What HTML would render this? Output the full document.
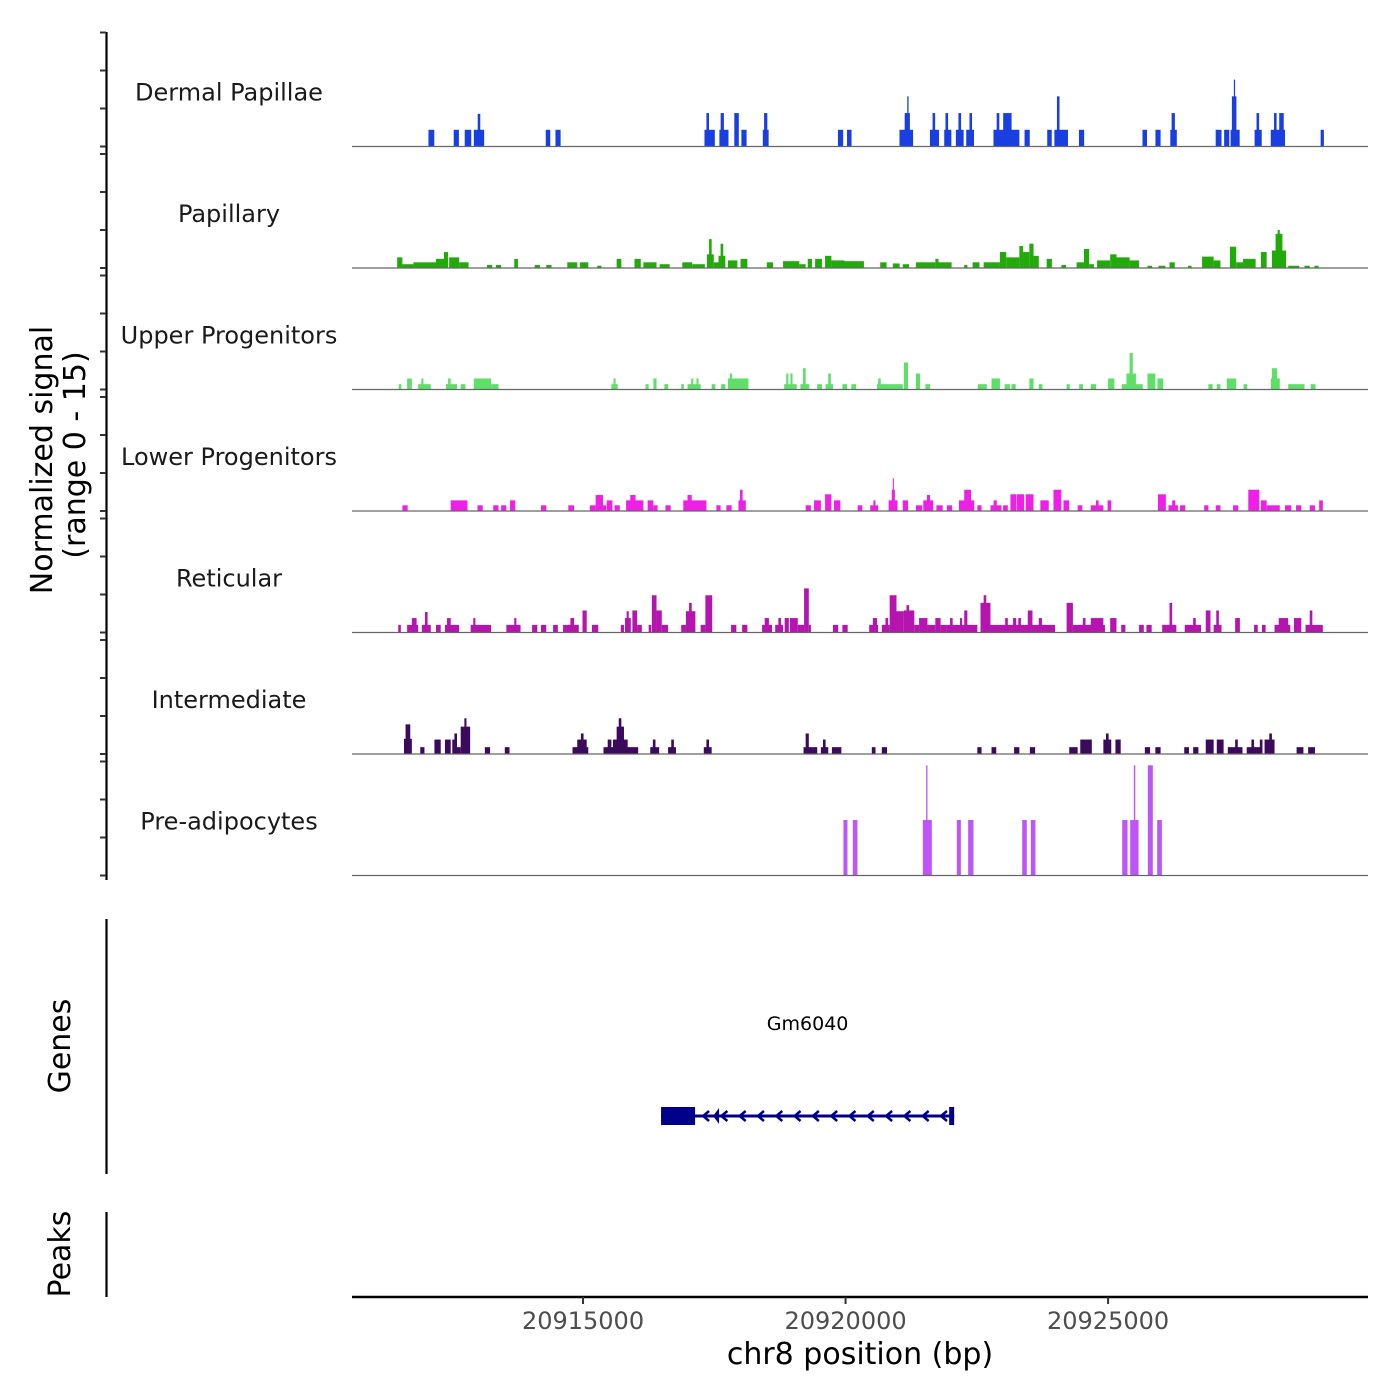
<!DOCTYPE html>
<html><head><meta charset="utf-8"><style>
html,body{margin:0;padding:0;background:#fff;}
svg{display:block;font-family:"DejaVu Sans","Liberation Sans",sans-serif;}
</style></head><body>
<svg id="chart" width="1400" height="1400" viewBox="0 0 1400 1400" xmlns="http://www.w3.org/2000/svg">
<rect x="0" y="0" width="1400" height="1400" fill="#fff"/>
<g id="tracks"></g>
<g id="yaxis"></g>
<text transform="translate(52,460) rotate(-90)" text-anchor="middle" font-size="30" fill="#000">Normalized signal</text>
<text transform="translate(85,455) rotate(-90)" text-anchor="middle" font-size="30" fill="#000">(range 0 - 15)</text>
<line x1="106.5" y1="919" x2="106.5" y2="1174" stroke="#000" stroke-width="2.2"/>
<text transform="translate(70,1046) rotate(-90)" text-anchor="middle" font-size="30" fill="#000">Genes</text>
<line x1="106.5" y1="1212" x2="106.5" y2="1297" stroke="#000" stroke-width="2.2"/>
<text transform="translate(70,1254) rotate(-90)" text-anchor="middle" font-size="30" fill="#000">Peaks</text>
<g id="gene"></g>
<g id="xaxis"></g>
<text x="860" y="1364" text-anchor="middle" font-size="30" fill="#000">chr8 position (bp)</text>
</svg>
<script>
// Genomic region and track names
const regionStart = 20910600;
const regionEnd = 20929950;
const trackNames = ["Dermal Papillae","Papillary","Upper Progenitors","Lower Progenitors","Reticular","Intermediate","Pre-adipocytes"];
const trackColors = ["#1a3fe0","#22aa0a","#5ddf68","#ef20e6","#b514ae","#3b0a5c","#be55f7"];
const xTicks = [20915000, 20920000, 20925000];
const xTickLabels = ["20915000","20920000","20925000"];
const yTickValues = [0, 5, 10, 15];
// Coverage: [start offset (bp from regionStart), end offset, signal]
const dermal = [[1456,1567,2.2],[1937,2036,2.2],[2147,2271,2.2],[2320,2517,2.2],[2394,2443,4.3],[3690,3776,2.2],[3875,3973,2.2],[6713,6910,2.2],[6750,6799,4.4],[6997,7170,2.2],[7021,7083,4.4],[7281,7367,4.4],[7416,7515,2.2],[7824,7935,2.2],[7848,7910,4.4],[9255,9354,2.2],[9428,9514,2.2],[10427,10686,2.2],[10526,10625,4.4],[10575,10600,6.6],[11007,11180,2.2],[11057,11106,4.4],[11279,11415,2.2],[11303,11353,4.4],[11501,11649,2.2],[11550,11600,4.4],[11698,11846,2.2],[11760,11809,4.4],[12217,12710,2.2],[12278,12328,4.4],[12402,12562,4.4],[12809,12908,2.2],[13241,13327,2.2],[13377,13636,2.2],[13426,13475,6.6],[13845,13944,2.2],[15055,15141,2.2],[15302,15400,2.2],[15585,15709,2.2],[15610,15672,4.4],[16449,16560,2.2],[16610,16708,2.2],[16733,16906,2.2],[16758,16844,6.6],[16795,16819,8.8],[17190,17326,2.2],[17227,17276,4.4],[17498,17770,2.2],[17560,17609,4.4],[17659,17745,4.4],[18448,18510,2.2]];
const papillary = [[860,960,1.4],[960,1170,0.5],[1170,1600,0.75],[1600,1790,1.2],[1750,1830,2.1],[1850,2040,1.4],[2040,2220,0.75],[2570,2670,0.4],[2740,2840,0.4],[3090,3160,1.2],[3480,3580,0.4],[3700,3800,0.4],[4100,4290,0.75],[4340,4500,0.75],[4670,4750,0.3],[5040,5130,1.2],[5380,5500,1.2],[5550,5800,0.75],[5860,6050,0.5],[6290,6480,0.75],[6480,6720,0.5],[6760,6890,1.8],[6800,6850,3.8],[6890,6980,0.75],[6980,7110,1.6],[7020,7070,3.2],[7160,7340,1.0],[7400,7530,1.2],[7900,8020,0.75],[8210,8520,0.9],[8520,8640,0.5],[8680,8760,1.2],[8820,8950,1.2],[9010,9130,1.6],[9130,9380,1.0],[9380,9750,0.9],[10060,10180,0.75],[10300,10430,0.6],[10490,10610,0.5],[10740,11110,0.75],[11110,11170,1.2],[11170,11420,0.75],[11660,11720,0.4],[11820,11950,0.75],[12030,12340,0.75],[12340,12460,2.1],[12460,12710,1.4],[12710,12780,2.9],[12780,12900,2.1],[12900,12980,3.2],[12980,13080,1.6],[13230,13330,1.2],[13510,13600,0.4],[13800,13940,0.75],[13940,14040,2.5],[14040,14130,0.5],[14190,14440,1.0],[14440,14560,1.8],[14560,14810,1.4],[14810,14990,1.0],[15150,15240,0.3],[15360,15490,0.3],[15570,15670,0.75],[15920,15990,0.3],[16190,16410,1.5],[16410,16540,1.0],[16720,16840,2.8],[16840,16970,0.75],[16970,17210,1.2],[17310,17420,2.1],[17520,17790,2.3],[17590,17720,4.5],[17630,17670,5.0],[17830,18040,0.3],[18140,18240,0.3],[18330,18410,0.3]];
const upperProg = [[890,940,0.7],[1050,1140,1.45],[1260,1500,0.7],[1320,1360,1.45],[1790,2000,0.7],[1830,1880,1.45],[2070,2160,0.7],[2320,2650,1.45],[2650,2790,0.7],[4940,5060,0.7],[4980,5020,1.45],[5590,5650,0.7],[5740,5800,1.45],[5950,6020,0.7],[6270,6320,0.7],[6390,6640,0.7],[6460,6500,1.45],[6560,6600,1.45],[6850,6920,0.7],[7030,7110,0.7],[7160,7550,1.45],[7200,7240,2.1],[8230,8470,0.7],[8270,8310,2.1],[8350,8390,2.1],[8540,8710,0.7],[8590,8640,2.8],[8860,8950,0.7],[9020,9160,0.7],[9070,9120,2.1],[9340,9430,0.7],[9510,9600,0.7],[10000,10490,0.7],[10020,10070,1.45],[10510,10590,3.55],[10740,10820,2.1],[10920,11010,0.7],[11920,12090,0.7],[12180,12340,1.45],[12430,12530,0.7],[12560,12640,0.7],[12900,12980,1.45],[13080,13150,0.7],[13610,13670,0.7],[13850,13920,0.7],[14070,14170,0.7],[14400,14520,1.45],[14660,15060,0.7],[14750,14930,2.1],[14810,14870,4.8],[15150,15300,2.1],[15340,15450,1.45],[16310,16390,0.7],[16470,16540,0.7],[16660,16840,1.45],[16980,17050,0.7],[17500,17670,1.45],[17520,17620,2.8],[17830,18140,0.7],[18260,18350,0.7]];
const lowerProg = [[960,1060,0.75],[1880,2200,1.4],[2390,2490,0.75],[2690,2790,0.75],[2840,2940,0.75],[3010,3110,1.4],[3600,3700,0.75],[4120,4230,0.75],[4530,4640,0.75],[4640,4780,2.1],[4780,4840,0.75],[4850,4960,1.4],[5000,5100,0.75],[5220,5550,1.4],[5300,5400,2.1],[5630,5740,1.4],[5740,5820,0.75],[5970,6070,0.75],[6310,6750,1.4],[6390,6470,2.1],[6940,7020,0.75],[7130,7230,0.75],[7360,7500,1.4],[7390,7440,2.8],[8640,8740,0.75],[8800,8930,1.4],[9010,9130,2.2],[9180,9300,1.4],[9630,9720,0.75],[9870,10020,0.75],[9930,9970,1.4],[10220,10390,1.4],[10280,10340,2.8],[10300,10320,4.3],[10490,10590,1.4],[10740,10860,0.75],[10880,11070,1.4],[10950,11010,2.1],[11130,11250,0.75],[11330,11430,0.75],[11560,11850,1.4],[11660,11790,2.8],[11910,11990,0.75],[12160,12370,0.75],[12220,12280,1.4],[12400,12490,0.75],[12540,12650,2.2],[12660,12800,2.2],[12830,12980,2.2],[13110,13270,1.4],[13360,13510,2.8],[13550,13660,1.4],[13820,13910,0.75],[14070,14310,0.75],[14170,14220,1.4],[14390,14460,1.4],[15350,15500,2.2],[15550,15730,0.75],[15620,15680,1.4],[15770,15870,0.75],[16230,16310,0.75],[16450,16540,0.75],[16780,16880,0.75],[17070,17280,2.8],[17310,17420,1.4],[17420,17670,0.75],[17770,17890,0.75],[17980,18080,0.75],[18240,18340,0.75],[18420,18490,1.4]];
const reticular = [[880,930,1.0],[1050,1260,1.0],[1140,1230,1.9],[1330,1500,1.0],[1390,1440,2.7],[1600,1690,1.0],[1770,2040,1.0],[1810,1880,1.9],[2260,2650,1.0],[2310,2350,1.9],[2940,3210,1.0],[3090,3130,1.9],[3430,3530,1.0],[3600,3700,1.0],[3830,3920,1.0],[4020,4320,1.0],[4160,4230,1.9],[4390,4470,2.9],[4570,4690,1.0],[5120,5180,1.0],[5200,5310,1.9],[5230,5270,2.8],[5340,5430,2.9],[5430,5520,1.0],[5650,5700,1.0],[5710,5800,4.9],[5800,5900,2.9],[5900,6020,1.0],[6270,6360,1.0],[6360,6540,2.8],[6420,6470,3.9],[6640,6730,1.0],[6730,6860,4.9],[7220,7320,1.0],[7430,7530,1.0],[7810,8000,1.0],[7860,7940,1.9],[8060,8210,1.0],[8120,8170,1.9],[8240,8320,1.9],[8340,8490,1.9],[8490,8610,1.0],[8610,8700,5.8],[8700,8740,1.0],[9160,9260,1.0],[9340,9440,1.0],[9850,10020,1.0],[9920,10000,1.9],[10090,10240,1.0],[10160,10210,1.9],[10240,10370,4.9],[10370,10510,2.8],[10510,10710,2.9],[10560,10610,3.6],[10710,10800,1.0],[10800,10960,1.9],[10960,11110,1.0],[11110,11210,1.9],[11210,11330,1.0],[11330,11910,1.0],[11390,11440,1.9],[11580,11620,1.9],[11660,11720,2.9],[11970,12160,3.9],[12030,12080,4.9],[12160,13390,1.0],[12440,12490,1.9],[12590,12650,1.9],[12690,12740,1.9],[12870,12960,2.9],[13080,13140,1.9],[13610,13730,3.9],[13730,14340,1.0],[13920,13970,1.9],[14070,14310,1.9],[14440,14560,1.9],[14650,14730,1.0],[14990,15080,1.0],[15130,15230,1.0],[15430,15700,1.0],[15570,15620,3.9],[15860,16170,1.0],[16020,16070,1.9],[16260,16350,2.9],[16410,16560,1.0],[16460,16510,2.9],[16820,16910,1.9],[17180,17250,1.0],[17330,17400,1.0],[17570,17870,1.0],[17650,17830,1.9],[17940,18080,1.9],[18160,18490,1.0],[18240,18290,2.9]];
const intermediate = [[990,1140,2.0],[1020,1110,3.9],[1300,1380,0.9],[1570,1690,1.9],[1770,1880,1.9],[1910,2000,1.9],[1950,2000,2.7],[2000,2070,0.9],[2070,2250,3.6],[2140,2180,4.7],[2530,2630,0.9],[2910,3000,0.9],[4200,4500,0.9],[4290,4470,1.9],[4360,4410,2.7],[4790,5450,0.9],[4870,4940,1.9],[4970,5250,1.9],[5040,5180,3.6],[5080,5130,4.7],[5680,5850,0.9],[5730,5780,1.9],[6020,6170,0.9],[6080,6130,1.9],[6700,6850,0.9],[6750,6800,1.9],[8600,8860,0.9],[8640,8700,2.7],[8930,9070,0.9],[8970,9020,1.9],[9140,9320,0.9],[9900,9970,0.9],[10090,10190,0.9],[11910,11990,0.9],[12180,12270,0.9],[12610,12710,0.9],[12910,13010,0.9],[13660,13820,0.9],[13870,14090,1.9],[14310,14460,1.9],[14360,14410,2.7],[14540,14640,1.9],[15100,15200,0.9],[15300,15400,0.9],[15850,15940,0.9],[16020,16120,0.9],[16260,16410,1.9],[16470,16600,1.9],[16680,16960,0.9],[16820,16870,1.9],[17040,17340,0.9],[17130,17180,1.9],[17290,17340,1.9],[17380,17570,1.9],[17470,17520,2.7],[17990,18120,0.9],[18210,18340,0.9]];
const preAdipo = [[9360,9436,7.3],[9538,9626,7.3],[10872,11043,7.3],[10935,10960,14.5],[11519,11596,7.3],[11735,11836,7.3],[12764,12852,7.3],[12929,13017,7.3],[14669,14770,7.3],[14821,14980,7.3],[14890,14918,14.5],[15157,15252,14.5],[15335,15424,7.3]];
const trackData = [dermal, papillary, upperProg, lowerProg, reticular, intermediate, preAdipo];
// Gene model (bp)
const geneName = "Gm6040";
const geneStart = 20916486, geneEnd = 20922068;
const exonStarts = [20916486, 20921973];
const exonEnds = [20917134, 20922068];

const NS = "http://www.w3.org/2000/svg";
const X0 = 352, X1 = 1368;
const xScale = bp => X0 + (bp - regionStart) / (regionEnd - regionStart) * (X1 - X0);
const TRACK_H = 121.5, FIRST_BASE = 146.5, PX_PER_UNIT = 114 / 15;
const baseY = i => FIRST_BASE + i * TRACK_H;
const yScale = (i, v) => baseY(i) - v * PX_PER_UNIT;
function mk(tag, attrs, parent) {
  const e = document.createElementNS(NS, tag);
  for (const k in attrs) e.setAttribute(k, attrs[k]);
  parent.appendChild(e);
  return e;
}
const tracksG = document.getElementById("tracks");
trackData.forEach((data, i) => {
  const g = mk("g", {}, tracksG);
  
  
  data.forEach(d => {
    const x1 = xScale(regionStart + d[0]), x2 = xScale(regionStart + d[1]);
    const r = mk("rect", {x: x1, y: yScale(i, d[2]), width: Math.max(1, x2 - x1), height: baseY(i) - yScale(i, d[2]), fill: trackColors[i]}, g);
    
    
  });
  const bl = mk("line", {x1: X0, x2: X1, y1: baseY(i), y2: baseY(i), stroke: "#666", "stroke-width": 1.2}, g);
  
  
  const t = mk("text", {x: 229, y: baseY(i) - 46, "text-anchor": "middle", "font-size": 24, fill: "#1a1a1a"}, g);
  t.textContent = trackNames[i];
  
  
});
// y axis
const ya = document.getElementById("yaxis");
const al = mk("line", {x1: 106.5, x2: 106.5, y1: 32, y2: 880, stroke: "#000", "stroke-width": 2.2}, ya);


trackData.forEach((d, i) => {
  yTickValues.forEach(v => {
    const tk = mk("line", {x1: 100, x2: 106, y1: yScale(i, v), y2: yScale(i, v), stroke: "#333", "stroke-width": 2}, ya);
    
    
  });
});
// gene
const gg = document.getElementById("gene");
const gy = 1116;
const gl = mk("line", {x1: xScale(geneStart), x2: xScale(geneEnd), y1: gy, y2: gy, stroke: "#00008b", "stroke-width": 3}, gg);


exonStarts.forEach((s, k) => {
  const x1 = xScale(s), x2 = xScale(exonEnds[k]);
  const ex = mk("rect", {x: x1, y: gy - 9, width: Math.max(3, x2 - x1), height: 18, fill: "#00008b"}, gg);
  
  
});
const ax0 = xScale(exonEnds[0]) + 8, ax1 = xScale(exonStarts[1]) - 2;
for (let x = ax0; x < ax1; x += 18.3) {
  const ch = mk("polyline", {points: `${x+6},${gy-5} ${x},${gy} ${x+6},${gy+5}`, fill: "none", stroke: "#00008b", "stroke-width": 2.5}, gg);
  
  
}
const tri = mk("polygon", {points: `${ax0+16},${gy-8} ${ax0+10},${gy} ${ax0+16},${gy+8}`, fill: "#00008b"}, gg);


const gt = mk("text", {x: (xScale(geneStart) + xScale(geneEnd)) / 2, y: 1030, "text-anchor": "middle", "font-size": 19, fill: "#000"}, gg);
gt.textContent = geneName;


// x axis
const xa = document.getElementById("xaxis");
const xl = mk("line", {x1: X0, x2: X1, y1: 1297, y2: 1297, stroke: "#000", "stroke-width": 2.4}, xa);


xTicks.forEach((v, k) => {
  const tk = mk("line", {x1: xScale(v), x2: xScale(v), y1: 1297, y2: 1304, stroke: "#333", "stroke-width": 2}, xa);
  
  
  const tl = mk("text", {x: xScale(v), y: 1329, "text-anchor": "middle", "font-size": 24, fill: "#4d4d4d"}, xa);
  tl.textContent = xTickLabels[k];
  
  
});
</script>
</body></html>
